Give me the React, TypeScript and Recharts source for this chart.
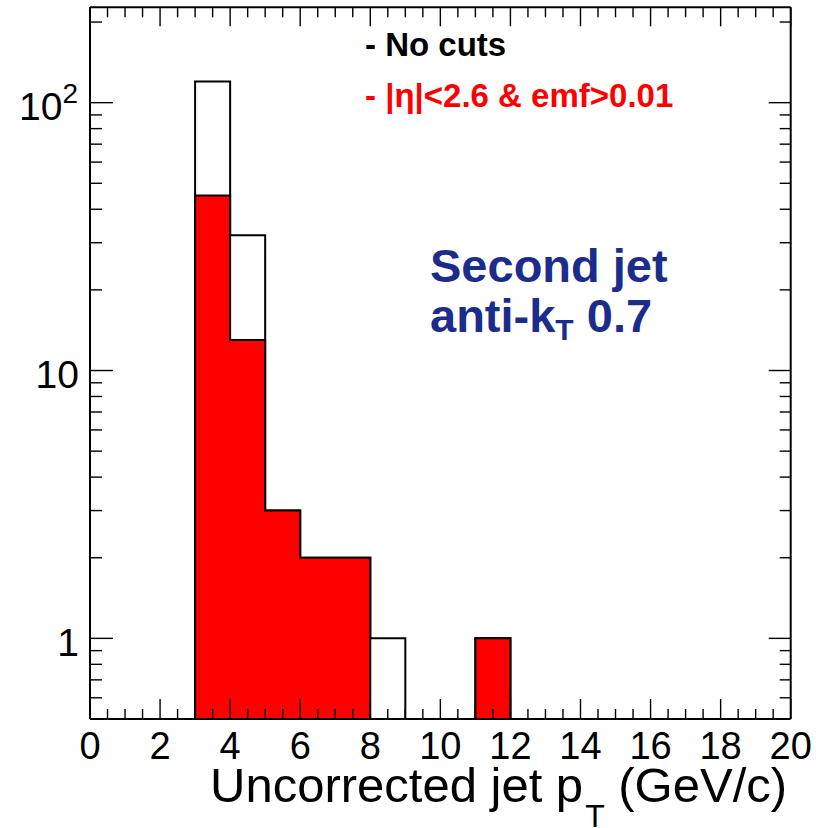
import React from 'react';
import { ComposedChart, Area, XAxis, YAxis } from 'recharts';

// ---- data ----
const BIN_EDGES = [0, 1, 2, 3, 4, 5, 6, 7, 8, 9, 10, 11, 12, 13, 14, 15, 16, 17, 18, 19, 20];
const NO_CUTS = [0, 0, 0, 120, 32, 3, 2, 2, 1, 0, 0, 1, 0, 0, 0, 0, 0, 0, 0, 0];
const WITH_CUTS = [0, 0, 0, 45, 13, 3, 2, 2, 0, 0, 0, 1, 0, 0, 0, 0, 0, 0, 0, 0];

const X_TICKS = [0, 0.5, 1, 1.5, 2, 2.5, 3, 3.5, 4, 4.5, 5, 5.5, 6, 6.5, 7, 7.5, 8, 8.5, 9, 9.5, 10,
  10.5, 11, 11.5, 12, 12.5, 13, 13.5, 14, 14.5, 15, 15.5, 16, 16.5, 17, 17.5, 18, 18.5, 19, 19.5, 20];
const X_LABELS = [0, 2, 4, 6, 8, 10, 12, 14, 16, 18, 20];
const Y_TICKS = [0.6, 0.7, 0.8, 0.9, 1, 2, 3, 4, 5, 6, 7, 8, 9, 10, 20, 30, 40, 50, 60, 70, 80, 90, 100, 200];
const Y_LABELS = [1, 10, 100];
const Y_MIN = 0.5;
const Y_MAX = 227;

const LEGEND_NO_CUTS = '- No cuts';
const LEGEND_CUTS = '- |η|<2.6 & emf>0.01';
const TITLE_LINE1 = 'Second jet';

const FONT = '"Liberation Sans", Arial, Helvetica, sans-serif';

const floorVal = (v: number) => (v > 0 ? v : Y_MIN);
const table = BIN_EDGES.map((e, i) => ({
  edge: e,
  noCuts: floorVal(NO_CUTS[i] ?? 0),
  withCuts: floorVal(WITH_CUTS[i] ?? 0),
}));

const TICK_W = 1.4;

const BottomTick = (props: any) => {
  const { x, y, payload } = props;
  const v = payload.value;
  const major = X_LABELS.includes(v);
  const len = major ? 20 : 10;
  return (
    <g>
      <line x1={x} x2={x} y1={y} y2={y - len} stroke="#000" strokeWidth={TICK_W} />
      {major && (
        <text x={x} y={y + 40} textAnchor="middle" fontSize={38} fontFamily={FONT} fill="#000">
          {v}
        </text>
      )}
    </g>
  );
};

const TopTick = (props: any) => {
  const { x, y, payload } = props;
  const major = X_LABELS.includes(payload.value);
  const len = major ? 19 : 10;
  return <line x1={x} x2={x} y1={y} y2={y + len} stroke="#000" strokeWidth={TICK_W} />;
};

const LeftTick = (props: any) => {
  const { x, y, payload } = props;
  const v = payload.value;
  const major = Y_LABELS.includes(v);
  const len = major ? 23 : 12;
  let label: React.ReactNode = null;
  if (major) {
    if (v === 100) {
      label = (
        <text x={x - 12} y={y + 17.6} textAnchor="end" fontSize={39} fontFamily={FONT} fill="#000">
          10<tspan fontSize={28} dy={-17.6}>2</tspan>
        </text>
      );
    } else {
      label = (
        <text x={x - 11} y={y + 17.6} textAnchor="end" fontSize={39} fontFamily={FONT} fill="#000">
          {v}
        </text>
      );
    }
  }
  return (
    <g>
      <line x1={x} x2={x + len} y1={y} y2={y} stroke="#000" strokeWidth={TICK_W} />
      {label}
    </g>
  );
};

const RightTick = (props: any) => {
  const { x, y, payload } = props;
  const major = Y_LABELS.includes(payload.value);
  const len = major ? 22 : 11;
  return <line x1={x} x2={x - len} y1={y} y2={y} stroke="#000" strokeWidth={TICK_W} />;
};

export default function App() {
  return (
    <div style={{ position: 'absolute', left: 0, top: 0, width: 832, height: 828, background: '#fff' }}>
      <ComposedChart
        width={832}
        height={828}
        data={table}
        margin={{ top: 0, right: 0, bottom: 0, left: 0 }}
        style={{ fontFamily: FONT }}
      >
        <XAxis
          xAxisId="x"
          dataKey="edge"
          type="number"
          domain={[0, 20]}
          ticks={X_TICKS}
          interval={0}
          height={109}
          tickSize={0}
          tickMargin={0}
          tickLine={false}
          axisLine={{ stroke: '#000', strokeWidth: 2 }}
          tick={BottomTick}
          allowDataOverflow
        />
        <XAxis
          xAxisId="t"
          orientation="top"
          type="number"
          domain={[0, 20]}
          ticks={X_TICKS}
          interval={0}
          height={7.3}
          tickSize={0}
          tickMargin={0}
          tickLine={false}
          axisLine={{ stroke: '#000', strokeWidth: 2 }}
          tick={TopTick}
          allowDataOverflow
        />
        <YAxis
          yAxisId="y"
          type="number"
          scale="log"
          domain={[Y_MIN, Y_MAX]}
          ticks={Y_TICKS}
          interval={0}
          width={90}
          tickSize={0}
          tickMargin={0}
          tickLine={false}
          axisLine={{ stroke: '#000', strokeWidth: 2 }}
          tick={LeftTick}
          allowDataOverflow
        />
        <YAxis
          yAxisId="r"
          orientation="right"
          type="number"
          scale="log"
          domain={[Y_MIN, Y_MAX]}
          ticks={Y_TICKS}
          interval={0}
          width={41.3}
          tickSize={0}
          tickMargin={0}
          tickLine={false}
          axisLine={{ stroke: '#000', strokeWidth: 2 }}
          tick={RightTick}
          allowDataOverflow
        />
        <Area
          xAxisId="x"
          yAxisId="y"
          dataKey="noCuts"
          type="stepAfter"
          stroke="#000"
          strokeWidth={2}
          fill="none"
          baseValue={Y_MIN}
          dot={false}
          activeDot={false}
          isAnimationActive={false}
        />
        <Area
          xAxisId="x"
          yAxisId="y"
          dataKey="withCuts"
          type="stepAfter"
          stroke="#000"
          strokeWidth={2}
          fill="#ff0000"
          fillOpacity={1}
          baseValue={Y_MIN}
          dot={false}
          activeDot={false}
          isAnimationActive={false}
        />
      </ComposedChart>
      <svg
        width={832}
        height={828}
        style={{ position: 'absolute', left: 0, top: 0, pointerEvents: 'none' }}
      >
        <text x={365} y={56} fontSize={33} fontWeight="bold" fontFamily={FONT} fill="#000">
          {LEGEND_NO_CUTS}
        </text>
        <text x={365} y={107} fontSize={33} fontWeight="bold" fontFamily={FONT} fill="#ff0000">
          {LEGEND_CUTS}
        </text>
        <text x={430} y={282} fontSize={47} fontWeight="bold" fontFamily={FONT} fill="#1b2c8c">
          {TITLE_LINE1}
        </text>
        <text x={430} y={332} fontSize={47} fontWeight="bold" fontFamily={FONT} fill="#1b2c8c">
          anti-k<tspan fontSize={30} dy={8}>T</tspan><tspan dy={-8}>{' 0.7'}</tspan>
        </text>
        <text x={210} y={801.7} fontSize={49} fontFamily={FONT} fill="#000">
          Uncorrected jet p<tspan fontSize={32} dy={25} dx={2}>T</tspan><tspan dy={-25}>{' (GeV/c)'}</tspan>
        </text>
      </svg>
    </div>
  );
}
